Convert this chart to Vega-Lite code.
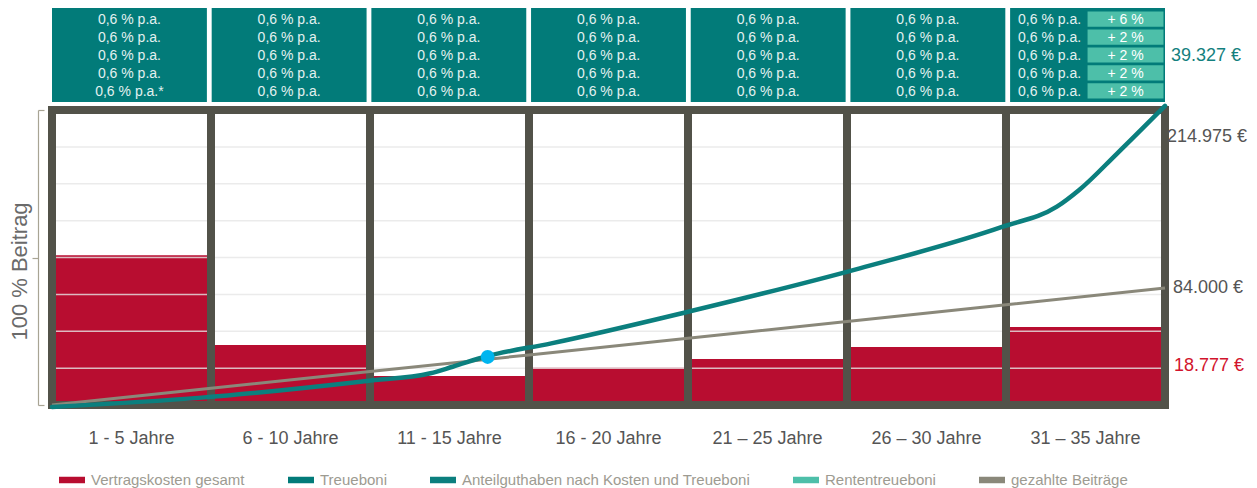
{
  "$schema": "https://vega.github.io/schema/vega-lite/v6.json",
  "background": "white",
  "padding": {"left": 8, "top": 8, "right": 5, "bottom": 5},
  "spacing": 8,
  "bounds": "flush",
  "config": {
    "view": {"stroke": null},
    "font": "Liberation Sans",
    "locale": {"number": {"decimal": ",", "thousands": ".", "grouping": [3], "currency": ["", " €"]}}
  },
  "datasets": {
    "gruppen": [
      {"gruppe": "1 - 5 Jahre", "kosten": 50.8},
      {"gruppe": "6 - 10 Jahre", "kosten": 20.3},
      {"gruppe": "11 - 15 Jahre", "kosten": 9.8},
      {"gruppe": "16 - 20 Jahre", "kosten": 12.6},
      {"gruppe": "21 – 25 Jahre", "kosten": 15.6},
      {"gruppe": "26 – 30 Jahre", "kosten": 19.7},
      {"gruppe": "31 – 35 Jahre", "kosten": 26.4, "kosten_summe": 18777, "treueboni_summe": 39327}
    ],
    "zinsen": [
      {"gruppe": "1 - 5 Jahre", "zeile": 1, "zins": "0,6 % p.a."},
      {"gruppe": "1 - 5 Jahre", "zeile": 2, "zins": "0,6 % p.a."},
      {"gruppe": "1 - 5 Jahre", "zeile": 3, "zins": "0,6 % p.a."},
      {"gruppe": "1 - 5 Jahre", "zeile": 4, "zins": "0,6 % p.a."},
      {"gruppe": "1 - 5 Jahre", "zeile": 5, "zins": "0,6 % p.a.*"},
      {"gruppe": "6 - 10 Jahre", "zeile": 1, "zins": "0,6 % p.a."},
      {"gruppe": "6 - 10 Jahre", "zeile": 2, "zins": "0,6 % p.a."},
      {"gruppe": "6 - 10 Jahre", "zeile": 3, "zins": "0,6 % p.a."},
      {"gruppe": "6 - 10 Jahre", "zeile": 4, "zins": "0,6 % p.a."},
      {"gruppe": "6 - 10 Jahre", "zeile": 5, "zins": "0,6 % p.a."},
      {"gruppe": "11 - 15 Jahre", "zeile": 1, "zins": "0,6 % p.a."},
      {"gruppe": "11 - 15 Jahre", "zeile": 2, "zins": "0,6 % p.a."},
      {"gruppe": "11 - 15 Jahre", "zeile": 3, "zins": "0,6 % p.a."},
      {"gruppe": "11 - 15 Jahre", "zeile": 4, "zins": "0,6 % p.a."},
      {"gruppe": "11 - 15 Jahre", "zeile": 5, "zins": "0,6 % p.a."},
      {"gruppe": "16 - 20 Jahre", "zeile": 1, "zins": "0,6 % p.a."},
      {"gruppe": "16 - 20 Jahre", "zeile": 2, "zins": "0,6 % p.a."},
      {"gruppe": "16 - 20 Jahre", "zeile": 3, "zins": "0,6 % p.a."},
      {"gruppe": "16 - 20 Jahre", "zeile": 4, "zins": "0,6 % p.a."},
      {"gruppe": "16 - 20 Jahre", "zeile": 5, "zins": "0,6 % p.a."},
      {"gruppe": "21 – 25 Jahre", "zeile": 1, "zins": "0,6 % p.a."},
      {"gruppe": "21 – 25 Jahre", "zeile": 2, "zins": "0,6 % p.a."},
      {"gruppe": "21 – 25 Jahre", "zeile": 3, "zins": "0,6 % p.a."},
      {"gruppe": "21 – 25 Jahre", "zeile": 4, "zins": "0,6 % p.a."},
      {"gruppe": "21 – 25 Jahre", "zeile": 5, "zins": "0,6 % p.a."},
      {"gruppe": "26 – 30 Jahre", "zeile": 1, "zins": "0,6 % p.a."},
      {"gruppe": "26 – 30 Jahre", "zeile": 2, "zins": "0,6 % p.a."},
      {"gruppe": "26 – 30 Jahre", "zeile": 3, "zins": "0,6 % p.a."},
      {"gruppe": "26 – 30 Jahre", "zeile": 4, "zins": "0,6 % p.a."},
      {"gruppe": "26 – 30 Jahre", "zeile": 5, "zins": "0,6 % p.a."},
      {"gruppe": "31 – 35 Jahre", "zeile": 1, "zins": "0,6 % p.a.", "bonus": "+ 6 %"},
      {"gruppe": "31 – 35 Jahre", "zeile": 2, "zins": "0,6 % p.a.", "bonus": "+ 2 %"},
      {"gruppe": "31 – 35 Jahre", "zeile": 3, "zins": "0,6 % p.a.", "bonus": "+ 2 %"},
      {"gruppe": "31 – 35 Jahre", "zeile": 4, "zins": "0,6 % p.a.", "bonus": "+ 2 %"},
      {"gruppe": "31 – 35 Jahre", "zeile": 5, "zins": "0,6 % p.a.", "bonus": "+ 2 %"}
    ],
    "beitraege": [
      {"jahr": 0, "betrag": 0},
      {"jahr": 5, "betrag": 12000},
      {"jahr": 10, "betrag": 24000},
      {"jahr": 15, "betrag": 36000},
      {"jahr": 20, "betrag": 48000},
      {"jahr": 25, "betrag": 60000},
      {"jahr": 30, "betrag": 72000},
      {"jahr": 35, "betrag": 84000}
    ],
    "guthaben": [
      {"jahr": 0, "betrag": -1400},
      {"jahr": 4.7, "betrag": 5300},
      {"jahr": 9.9, "betrag": 17300},
      {"jahr": 11.9, "betrag": 22800},
      {"jahr": 12.6, "betrag": 27500},
      {"jahr": 13.7, "betrag": 35200},
      {"jahr": 15.7, "betrag": 44300},
      {"jahr": 20, "betrag": 67000},
      {"jahr": 25.4, "betrag": 98200},
      {"jahr": 29.9, "betrag": 128100},
      {"jahr": 31.6, "betrag": 142500},
      {"jahr": 32.3, "betrag": 154500},
      {"jahr": 33.5, "betrag": 180900},
      {"jahr": 35, "betrag": 214975}
    ],
    "schnitt": [{"jahr": 13.7, "betrag": 34500}],
    "raster": [
      {"anteil": 12.5}, {"anteil": 25}, {"anteil": 37.5}, {"anteil": 50},
      {"anteil": 62.5}, {"anteil": 75}, {"anteil": 87.5}
    ]
  },
  "vconcat": [
    {
      "width": 1113,
      "height": 94,
      "layer": [
        {
          "data": {"name": "gruppen"},
          "mark": {"type": "rect"},
          "encoding": {
            "x": {"field": "gruppe", "type": "nominal", "axis": null,
                  "scale": {"domain": ["1 - 5 Jahre", "6 - 10 Jahre", "11 - 15 Jahre", "16 - 20 Jahre", "21 – 25 Jahre", "26 – 30 Jahre", "31 – 35 Jahre"], "paddingInner": 0.03, "paddingOuter": 0}},
            "color": {
              "datum": "Treueboni", "type": "nominal",
              "scale": {
                "domain": ["Vertragskosten gesamt", "Treueboni", "Anteilguthaben nach Kosten und Treueboni", "Rententreueboni", "gezahlte Beiträge"],
                "range": ["#b80d30", "#027b79", "#0b7f7e", "#4dbfa9", "#8a887a"]
              },
              "legend": {
                "title": null, "orient": "bottom", "direction": "horizontal",
                "labelFontSize": 15, "labelColor": "#9d9b91", "labelFont": "Liberation Sans",
                "symbolType": "M-1,-0.25H1V0.25H-1Z", "symbolSize": 676, "symbolStrokeWidth": 0,
                "columnPadding": 43, "labelOffset": 6, "offset": 13, "padding": 7, "labelLimit": 400,
                "encode": {"symbols": {"update": {"fill": {"scale": "color", "field": "value"}, "opacity": {"value": 1}}}}
              }
            }
          }
        },
        {
          "data": {"name": "zinsen"},
          "transform": [{"filter": "!datum.bonus"}],
          "mark": {"type": "text", "fontSize": 14, "color": "#e3f1f0", "dy": 1},
          "encoding": {
            "x": {"field": "gruppe", "type": "nominal", "axis": null},
            "y": {"field": "zeile", "type": "ordinal", "axis": null,
                  "scale": {"domain": [1, 2, 3, 4, 5], "paddingInner": 0.15, "paddingOuter": 0.2}},
            "text": {"field": "zins"}
          }
        },
        {
          "data": {"name": "zinsen"},
          "transform": [{"filter": "datum.bonus"}],
          "mark": {"type": "rect"},
          "encoding": {
            "x": {"field": "gruppe", "type": "nominal", "axis": null},
            "xOffset": {"datum": "Bonus", "type": "nominal", "scale": {"domain": ["Zins", "Bonus"], "paddingInner": 0, "paddingOuter": 0.02}},
            "y": {"field": "zeile", "type": "ordinal", "axis": null},
            "color": {"datum": "Rententreueboni", "type": "nominal"}
          }
        },
        {
          "data": {"name": "zinsen"},
          "transform": [{"filter": "datum.bonus"}],
          "mark": {"type": "text", "fontSize": 14, "color": "#e3f1f0", "dy": 1},
          "encoding": {
            "x": {"field": "gruppe", "type": "nominal", "axis": null},
            "xOffset": {"datum": "Zins", "type": "nominal"},
            "y": {"field": "zeile", "type": "ordinal", "axis": null},
            "text": {"field": "zins"}
          }
        },
        {
          "data": {"name": "zinsen"},
          "transform": [{"filter": "datum.bonus"}],
          "mark": {"type": "text", "fontSize": 14, "color": "#ffffff", "dy": 1},
          "encoding": {
            "x": {"field": "gruppe", "type": "nominal", "axis": null},
            "xOffset": {"datum": "Bonus", "type": "nominal"},
            "y": {"field": "zeile", "type": "ordinal", "axis": null},
            "text": {"field": "bonus"}
          }
        },
        {
          "data": {"name": "gruppen"},
          "transform": [{"filter": "datum.treueboni_summe"}],
          "mark": {"type": "text", "fontSize": 18, "color": "#13807e", "align": "left", "baseline": "middle", "dx": 6, "dy": 1},
          "encoding": {
            "x": {"field": "gruppe", "type": "nominal", "bandPosition": 1, "axis": null},
            "text": {"field": "treueboni_summe", "type": "quantitative", "format": "$,.0f"}
          }
        }
      ]
    },
    {
      "width": 1113,
      "height": 295,
      "layer": [
        {
          "layer": [
            {
              "data": {"name": "gruppen"},
              "mark": {"type": "bar"},
              "encoding": {
                "x": {"field": "gruppe", "type": "nominal",
                      "scale": {"domain": ["1 - 5 Jahre", "6 - 10 Jahre", "11 - 15 Jahre", "16 - 20 Jahre", "21 – 25 Jahre", "26 – 30 Jahre", "31 – 35 Jahre"], "paddingInner": 0, "paddingOuter": 0},
                      "axis": {"title": null, "domain": false, "ticks": false, "labelAngle": 0, "labelFontSize": 18, "labelColor": "#555555", "labelFont": "Liberation Sans", "labelPadding": 24}},
                "y": {"field": "kosten", "type": "quantitative",
                      "scale": {"domain": [0, 100], "nice": false},
                      "axis": {
                        "orient": "left", "offset": 14, "values": [0, 50, 100], "labels": false, "grid": false,
                        "domainColor": "#a8a494", "domainWidth": 1.2,
                        "tickColor": "#a8a494", "tickWidth": 1.2,
                        "tickSize": {"condition": {"test": "datum.value == 50", "value": 6}, "value": -6},
                        "title": "100 % Beitrag", "titleFontSize": 22, "titleFont": "Liberation Sans",
                        "titleFontWeight": "normal", "titleColor": "#6a6a6a", "titlePadding": 0, "titleY": 161
                      }},
                "color": {"datum": "Vertragskosten gesamt", "type": "nominal"}
              }
            },
            {
              "data": {"name": "raster"},
              "mark": {"type": "rule", "color": "#e6e6e6", "strokeWidth": 1.5, "opacity": 0.8},
              "encoding": {"y": {"field": "anteil", "type": "quantitative"}}
            },
            {
              "data": {"name": "gruppen"},
              "mark": {"type": "rect", "fill": "transparent", "stroke": "#525249", "strokeWidth": 8},
              "encoding": {
                "x": {"field": "gruppe", "type": "nominal"},
                "y": {"datum": 0, "type": "quantitative"},
                "y2": {"datum": 100}
              }
            },
            {
              "data": {"name": "gruppen"},
              "transform": [{"filter": "datum.kosten_summe"}],
              "mark": {"type": "text", "align": "left", "baseline": "middle", "dx": 9, "dy": 39, "fontSize": 18, "color": "#d2142d"},
              "encoding": {
                "x": {"field": "gruppe", "type": "nominal", "bandPosition": 1},
                "y": {"field": "kosten", "type": "quantitative"},
                "text": {"field": "kosten_summe", "type": "quantitative", "format": "$,.0f"}
              }
            }
          ]
        },
        {
          "layer": [
            {
              "data": {"name": "beitraege"},
              "mark": {"type": "line", "strokeWidth": 3},
              "encoding": {
                "x": {"field": "jahr", "type": "quantitative", "scale": {"domain": [0, 35], "nice": false}, "axis": null},
                "y": {"field": "betrag", "type": "quantitative", "scale": {"domain": [0, 212000], "nice": false, "zero": false}, "axis": null},
                "color": {"datum": "gezahlte Beiträge", "type": "nominal"}
              }
            },
            {
              "data": {"name": "guthaben"},
              "mark": {"type": "line", "strokeWidth": 4.5, "interpolate": "monotone", "strokeCap": "round"},
              "encoding": {
                "x": {"field": "jahr", "type": "quantitative", "axis": null},
                "y": {"field": "betrag", "type": "quantitative", "axis": null},
                "color": {"datum": "Anteilguthaben nach Kosten und Treueboni", "type": "nominal"}
              }
            },
            {
              "data": {"name": "schnitt"},
              "mark": {"type": "point", "filled": true, "color": "#00b5ef", "size": 190, "opacity": 1},
              "encoding": {
                "x": {"field": "jahr", "type": "quantitative", "axis": null},
                "y": {"field": "betrag", "type": "quantitative", "axis": null}
              }
            },
            {
              "data": {"name": "guthaben"},
              "transform": [{"filter": "datum.jahr == 35"}],
              "mark": {"type": "text", "align": "left", "baseline": "middle", "dx": 2, "dy": 31, "fontSize": 18, "color": "#555555"},
              "encoding": {
                "x": {"field": "jahr", "type": "quantitative", "axis": null},
                "y": {"field": "betrag", "type": "quantitative", "axis": null},
                "text": {"field": "betrag", "type": "quantitative", "format": "$,.0f"}
              }
            },
            {
              "data": {"name": "beitraege"},
              "transform": [{"filter": "datum.jahr == 35"}],
              "mark": {"type": "text", "align": "left", "baseline": "middle", "dx": 8, "fontSize": 18, "color": "#555555"},
              "encoding": {
                "x": {"field": "jahr", "type": "quantitative", "axis": null},
                "y": {"field": "betrag", "type": "quantitative", "axis": null},
                "text": {"field": "betrag", "type": "quantitative", "format": "$,.0f"}
              }
            }
          ]
        }
      ],
      "resolve": {"scale": {"x": "independent", "y": "independent"}}
    }
  ]
}
